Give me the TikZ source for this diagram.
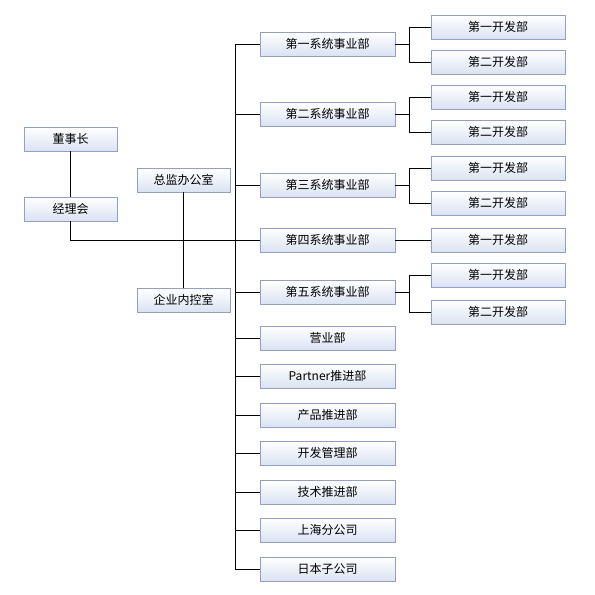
\documentclass[tikz,border=0pt]{standalone}
\usepackage{fontspec}
\setmainfont{Noto Sans CJK SC}
\usetikzlibrary{calc}
\definecolor{boxline}{RGB}{146,160,200}
\definecolor{boxfill}{RGB}{218,226,242}

\begin{document}
\begin{tikzpicture}[x=1pt,y=-1pt,
    box/.style={draw=boxline, line width=0.8pt, top color=white, bottom color=boxfill,
                minimum height=24pt, inner sep=0pt, font=\fontsize{12}{13}\selectfont},
    lbox/.style={box, minimum width=93pt},
    mbox/.style={box, minimum width=135pt},
    rbox/.style={box, minimum width=134pt},
    link/.style={draw=black, line width=0.9pt}]
    \useasboundingbox (0,0) rectangle (595,595);

    % left side
    \node[lbox] (dsz) at (70.5,139) {董事长};
    \node[lbox] (jlh) at (70.5,209) {经理会};
    \node[lbox] (zjb) at (183.5,180) {总监办公室};
    \node[lbox] (nkc) at (183.5,300) {企业内控室};

    % middle column
    \node[mbox] (sys1) at (327.5,44) {第一系统事业部};
    \node[mbox] (sys2) at (327.5,114) {第二系统事业部};
    \node[mbox] (sys3) at (327.5,185) {第三系统事业部};
    \node[mbox] (sys4) at (327.5,240) {第四系统事业部};
    \node[mbox] (sys5) at (327.5,292) {第五系统事业部};
    \node[mbox] (yyb) at (327.5,338) {营业部};
    \node[mbox] (ptn) at (327.5,376) {Partner推进部};
    \node[mbox] (cpt) at (327.5,415) {产品推进部};
    \node[mbox] (kfg) at (327.5,453) {开发管理部};
    \node[mbox] (jst) at (327.5,492) {技术推进部};
    \node[mbox] (shf) at (327.5,530) {上海分公司};
    \node[mbox] (rbz) at (327.5,569) {日本子公司};

    % right column
    \node[rbox] (d11) at (498,27) {第一开发部};
    \node[rbox] (d12) at (498,62) {第二开发部};
    \node[rbox] (d21) at (498,97) {第一开发部};
    \node[rbox] (d22) at (498,132) {第二开发部};
    \node[rbox] (d31) at (498,168) {第一开发部};
    \node[rbox] (d32) at (498,203) {第二开发部};
    \node[rbox] (d41) at (498,240) {第一开发部};
    \node[rbox] (d51) at (498,275) {第一开发部};
    \node[rbox] (d52) at (498,312) {第二开发部};

    % connectors
    \coordinate (bustop) at (235,44);
    \coordinate (busbot) at (235,569);
    \draw[link] (bustop) -- (busbot);
    \foreach \m in {sys1,sys2,sys3,sys4,sys5,yyb,ptn,cpt,kfg,jst,shf,rbz}
        \draw[link] (\m.west -| bustop) -- (\m.west);

    \draw[link] (dsz.south) -- (jlh.north);
    \draw[link] (zjb.south) -- (nkc.north);
    \draw[link] (jlh.south) |- (sys4.west);

    \draw[link] (sys1.east) -- +(14,0) coordinate (br1);
    \draw[link] (d11.west) -| (br1) |- (d12.west);
    \draw[link] (sys2.east) -- +(14,0) coordinate (br2);
    \draw[link] (d21.west) -| (br2) |- (d22.west);
    \draw[link] (sys3.east) -- +(14,0) coordinate (br3);
    \draw[link] (d31.west) -| (br3) |- (d32.west);
    \draw[link] (sys4.east) -- (d41.west);
    \draw[link] (sys5.east) -- +(14,0) coordinate (br5);
    \draw[link] (d51.west) -| (br5) |- (d52.west);
\end{tikzpicture}
\end{document}
